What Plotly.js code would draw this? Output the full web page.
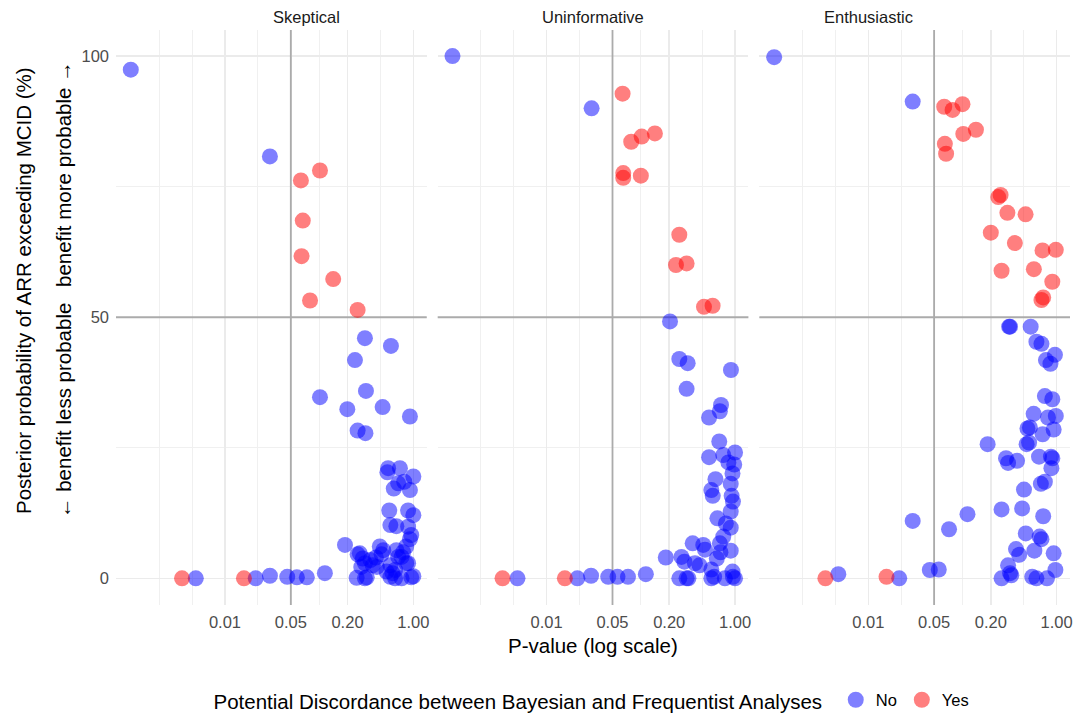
<!DOCTYPE html>
<html><head><meta charset="utf-8">
<script src="https://cdn.plot.ly/plotly-3.0.1.min.js"></script>
<style>html,body{margin:0;padding:0;background:#fff}</style>
</head><body><div id="chart" style="width:1082px;height:715px"></div>
<script>
// ---- data ----
const panelNames = ['Skeptical', 'Uninformative', 'Enthusiastic'];
const groupNames = ['No', 'Yes'];
const xTickVals = [0.01, 0.05, 0.2, 1];
const xTickText = ['0.01', '0.05', '0.20', '1.00'];
const xMinorVals = [0.002, 0.004472, 0.02236, 0.1, 0.4472];
const yTickVals = [0, 50, 100];
const yTickText = ['0', '50', '100'];
const yMinorVals = [25, 75];
const pThreshold = 0.05;
const probThreshold = 50;

// Skeptical prior
const skepNoP = [0.001, 0.030, 0.306, 0.578, 0.24, 0.102, 0.314, 0.199, 0.472, 0.92, 0.256, 0.31,
  0.54, 0.72, 0.53, 1.0, 0.69, 0.62, 0.92, 0.80, 0.555, 0.88, 1.0, 0.57, 0.66, 0.88, 0.95, 0.92,
  0.188, 0.44, 0.48, 0.27, 0.35, 0.66, 0.84, 0.75, 0.37, 0.306, 0.57, 0.84, 0.64, 0.52, 0.40, 0.78,
  0.256, 0.29, 0.46, 0.69, 0.88, 0.28, 0.41, 0.60,
  0.25, 0.306, 0.32, 0.57, 0.64, 0.75, 0.95, 1.0,
  0.0049, 0.0212, 0.030, 0.0458, 0.058, 0.074, 0.115];
const skepNoProb = [97.4, 80.8, 46.0, 44.5, 41.8, 34.7, 35.9, 32.4, 32.8, 31.0, 28.3, 27.8,
  21.1, 21.1, 20.3, 19.5, 18.2, 17.2, 16.9, 18.5, 13.0, 13.0, 12.1, 10.2, 10.0, 9.9, 8.3, 7.5,
  6.4, 6.1, 5.4, 4.8, 3.5, 5.4, 6.1, 4.1, 2.5, 2.9, 2.5, 2.9, 1.6, 1.3, 4.0, 5.0,
  4.6, 3.8, 4.6, 4.1, 2.9, 2.2, 2.2, 1.0,
  0.1, 0.0, 0.2, 0.3, 0.0, 0.0, 0.2, 0.4,
  0.0, 0.0, 0.5, 0.3, 0.2, 0.2, 1.0];
const skepYesP = [0.102, 0.064, 0.067, 0.065, 0.141, 0.080, 0.256, 0.0035, 0.0159];
const skepYesProb = [78.1, 76.2, 68.5, 61.7, 57.3, 53.2, 51.4, 0.0, 0.0];

// Uninformative prior
const unifNoP = [0.001, 0.030, 0.204, 0.256, 0.314, 0.905, 0.306, 0.71, 0.69, 0.53, 0.68,
  0.53, 0.75, 1.0, 0.85, 0.98, 0.94, 0.9, 0.62, 0.56, 0.58, 0.92, 0.95, 0.9, 0.65, 0.8, 0.9,
  0.75, 0.69, 0.9, 0.355, 0.46, 0.48, 0.184, 0.27, 0.29, 0.375, 0.42, 0.64, 0.70, 0.56, 0.94,
  0.0049, 0.0212, 0.0296, 0.045, 0.0565, 0.073, 0.113,
  0.256, 0.306, 0.32, 0.56, 0.6, 0.78, 0.95, 1.0];
const unifNoProb = [100, 90.0, 49.2, 42.0, 41.2, 39.9, 36.3, 33.2, 32.0, 30.8, 26.2,
  23.2, 23.6, 24.1, 22.2, 21.8, 20.1, 18.1, 19.0, 16.9, 15.8, 15.8, 14.7, 12.8, 11.5, 10.5, 9.7,
  8.0, 6.7, 5.3, 6.7, 6.4, 5.5, 4.0, 4.1, 3.2, 2.9, 2.5, 3.8, 5.0, 1.7, 1.3,
  0.0, 0.0, 0.5, 0.3, 0.3, 0.3, 0.8,
  0.0, 0.0, 0.0, 0.0, 0.3, 0.0, 0.3, 0.0];
const unifYesP = [0.064, 0.141, 0.102, 0.079, 0.065, 0.065, 0.1, 0.256, 0.236, 0.306, 0.468, 0.578, 0.0034, 0.0156];
const unifYesProb = [92.8, 85.2, 84.6, 83.6, 77.6, 76.7, 77.1, 65.8, 60.0, 60.3, 52.0, 52.2, 0.0, 0.0];

// Enthusiastic prior
const enthNoP = [0.001, 0.0296, 0.313, 0.32, 0.53, 0.61, 0.69, 0.96, 0.77, 0.86, 0.75, 0.9,
  0.57, 0.81, 0.98, 0.49, 0.52, 0.93, 0.71, 0.48, 0.51, 0.185, 0.29, 0.305, 0.38, 0.65, 0.87,
  0.90, 0.88, 0.75, 0.68, 0.45, 0.26, 0.43, 0.72, 0.113, 0.0296, 0.072, 0.47, 0.66, 0.69,
  0.37, 0.4, 0.58, 0.93, 0.305, 0.33, 0.32, 0.26, 0.97, 0.55, 0.61, 0.79,
  0.0048, 0.0213, 0.045, 0.056];
const enthNoProb = [99.8, 91.3, 48.2, 48.2, 48.2, 45.3, 44.9, 42.8, 41.8, 41.1, 34.9, 34.3,
  31.5, 30.8, 31.1, 28.7, 28.9, 28.5, 27.6, 25.7, 26.0, 25.7, 23.0, 22.1, 22.5, 23.3, 23.3,
  23.0, 21.1, 18.5, 18.1, 17.0, 13.2, 13.4, 11.9, 12.3, 11.0, 9.4, 8.6, 8.0, 7.5,
  5.6, 4.5, 5.3, 4.8, 2.5, 0.6, 1.0, 0.0, 1.6, 0.3, 0.0, 0.0,
  0.8, 0.0, 1.6, 1.7];
const enthYesP = [0.064, 0.0785, 0.1, 0.102, 0.139, 0.065, 0.067, 0.254, 0.24, 0.30, 0.468,
  0.2, 0.36, 0.708, 0.98, 0.26, 0.573, 0.90, 0.72, 0.69, 0.0035, 0.0156];
const enthYesProb = [90.3, 89.7, 90.8, 85.1, 85.9, 83.2, 81.3, 73.4, 73.0, 70.0, 69.7,
  66.2, 64.2, 62.8, 62.9, 58.9, 59.2, 56.8, 53.8, 53.3, 0.0, 0.3];

// ---- build ----
const panelData = [
  [[skepNoP, skepNoProb], [skepYesP, skepYesProb]],
  [[unifNoP, unifNoProb], [unifYesP, unifYesProb]],
  [[enthNoP, enthNoProb], [enthYesP, enthYesProb]]
];
const colors = ['rgba(0,0,255,0.5)', 'rgba(255,0,0,0.5)'];
const FONT = '"Liberation Sans", Arial, Helvetica, sans-serif';
const SMALL = 16.5, BIG = 20.5;
const xRange = [-3.157, 0.142];
const yRange = [-5.1, 105];
const domains = [[0, 0.3257], [0.3372, 0.6629], [0.6744, 1]];

const traces = [];
const layout = {
  width: 1082, height: 715,
  margin: {l: 116, r: 12, t: 30, b: 110, autoexpand: false},
  paper_bgcolor: '#ffffff', plot_bgcolor: '#ffffff',
  font: {family: FONT, color: '#000'},
  showlegend: true,
  legend: {
    orientation: 'h', x: 0.5, xanchor: 'center', y: (605 - 701) / 575, yanchor: 'middle',
    title: {text: 'Potential Discordance between Bayesian and Frequentist Analyses ', side: 'left', font: {size: BIG, color: '#000'}},
    font: {size: SMALL, color: '#000'}, itemwidth: 30, tracegroupgap: 0
  },
  annotations: [],
  hovermode: false
};

panelNames.forEach((name, i) => {
  const sx = i === 0 ? '' : String(i + 1);
  const xa = 'x' + sx, ya = 'y' + sx;
  layout['xaxis' + sx] = {
    type: 'log', range: xRange, domain: domains[i], anchor: ya,
    tickmode: 'array', tickvals: xTickVals, ticktext: xTickText,
    showgrid: true, gridcolor: '#EBEBEB', gridwidth: 1.4,
    zeroline: false, showline: false, ticks: '', ticklabelstandoff: 5,
    tickfont: {size: SMALL, color: '#4D4D4D', family: FONT},
    minor: {tickmode: 'array', tickvals: xMinorVals, showgrid: true, gridcolor: '#F0F0F0', gridwidth: 1, ticks: ''},
    fixedrange: true
  };
  layout['yaxis' + sx] = {
    range: yRange, domain: [0, 1], anchor: xa,
    tickmode: 'array', tickvals: yTickVals, ticktext: yTickText,
    showticklabels: i === 0,
    showgrid: true, gridcolor: '#EBEBEB', gridwidth: 1.4,
    zeroline: false, showline: false, ticks: '', ticklabelstandoff: 6,
    tickfont: {size: SMALL, color: '#4D4D4D', family: FONT},
    minor: {tickmode: 'array', tickvals: yMinorVals, showgrid: true, gridcolor: '#F0F0F0', gridwidth: 1, ticks: ''},
    fixedrange: true
  };
  // reference lines
  traces.push({x: [pThreshold, pThreshold], y: [yRange[0] - 10, yRange[1] + 10], xaxis: xa, yaxis: ya,
    mode: 'lines', line: {color: '#ABABAB', width: 1.8}, showlegend: false, hoverinfo: 'skip'});
  traces.push({x: [1e-5, 100], y: [probThreshold, probThreshold], xaxis: xa, yaxis: ya,
    mode: 'lines', line: {color: '#ABABAB', width: 1.8}, showlegend: false, hoverinfo: 'skip'});
  panelData[i].forEach((d, g) => {
    traces.push({
      x: d[0], y: d[1], xaxis: xa, yaxis: ya, type: 'scatter', mode: 'markers',
      name: groupNames[g], legendgroup: groupNames[g], showlegend: i === 0,
      marker: {size: 16, color: colors[g], line: {width: 0}},
      hoverinfo: 'skip'
    });
  });
  layout.annotations.push({
    text: name, xref: 'paper', yref: 'paper',
    x: (domains[i][0] + domains[i][1]) / 2, y: 1, yanchor: 'middle', yshift: 13,
    showarrow: false, font: {size: SMALL, color: '#1A1A1A', family: FONT}
  });
});

// axis titles
layout.annotations.push({
  text: 'P-value (log scale)', xref: 'paper', yref: 'paper', x: 0.5, y: (605 - 645) / 575,
  yanchor: 'middle', showarrow: false, font: {size: BIG, color: '#000', family: FONT}
});
layout.annotations.push({
  text: 'Posterior probability of ARR exceeding MCID (%)', xref: 'paper', yref: 'paper',
  x: (23 - 116) / 954, y: (605 - 291) / 575, xanchor: 'center', yanchor: 'middle',
  textangle: -90, showarrow: false, font: {size: BIG, color: '#000', family: FONT}
});
layout.annotations.push({
  text: 'benefit more probable \u2192', xref: 'paper', yref: 'paper',
  x: (63 - 116) / 954, y: (605 - 174) / 575, xanchor: 'center', yanchor: 'middle',
  textangle: -90, showarrow: false, font: {size: BIG, color: '#000', family: FONT}
});
layout.annotations.push({
  text: '\u2190 benefit less probable', xref: 'paper', yref: 'paper',
  x: (63 - 116) / 954, y: (605 - 411) / 575, xanchor: 'center', yanchor: 'middle',
  textangle: -90, showarrow: false, font: {size: BIG, color: '#000', family: FONT}
});

Plotly.newPlot('chart', traces, layout, {displayModeBar: false, staticPlot: true});
</script></body></html>
